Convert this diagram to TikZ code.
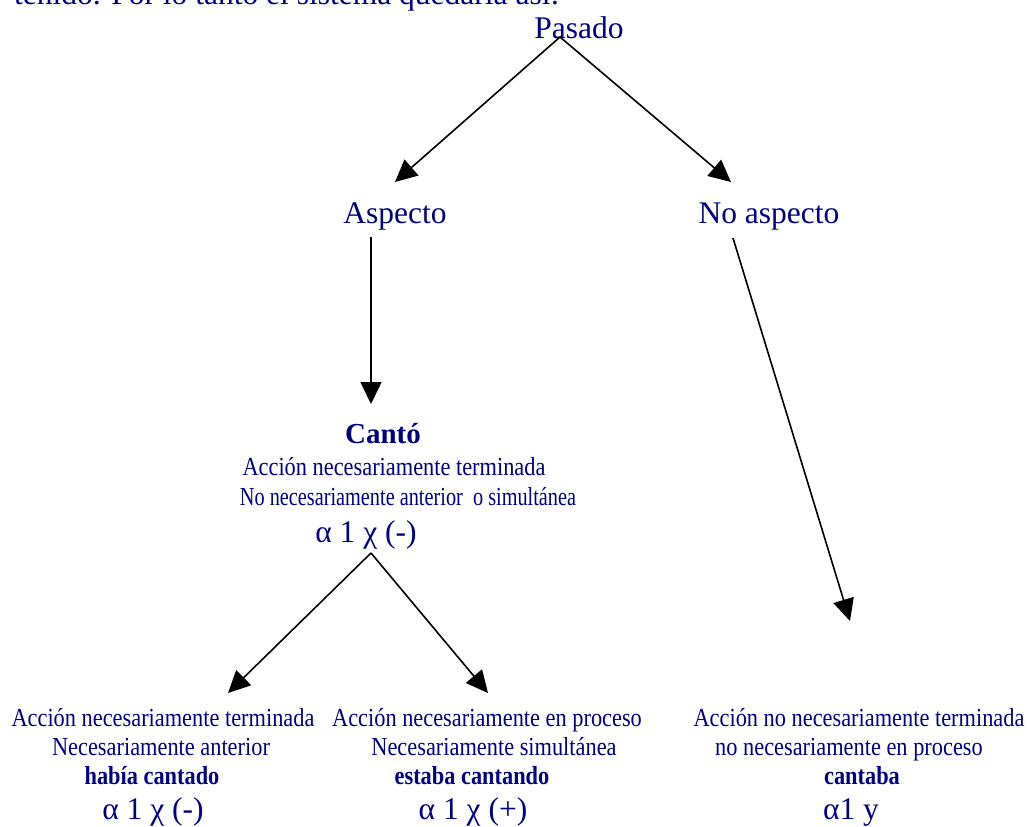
\documentclass[tikz,border=0pt]{standalone}
\usepackage{fontspec}
\setmainfont{Liberation Serif}
\newfontfamily\narrowserif[FakeStretch=0.86]{Liberation Serif}
\newfontfamily\narrowerserif[FakeStretch=0.78]{Liberation Serif}
\usetikzlibrary{arrows.meta}

\definecolor{ink}{RGB}{0,0,128}

\begin{document}
\begin{tikzpicture}[x=1pt,y=-1pt,
  txt/.style={inner sep=0pt,anchor=base,text=ink},
  big/.style={txt,font=\fontsize{31.5}{36}\selectfont},
  small/.style={txt,font=\narrowserif\fontsize{26}{30}\selectfont},
  smaller/.style={txt,font=\narrowerserif\fontsize{26}{30}\selectfont},
  smallbold/.style={txt,font=\narrowserif\bfseries\fontsize{26}{30}\selectfont},
  title/.style={txt,font=\bfseries\fontsize{29}{34}\selectfont},
  link/.style={draw=black,line width=1.6pt,
    -{Triangle[length=22pt,width=21pt]}}]
\useasboundingbox (0,0) rectangle (1028,827);
\begin{scope}
\clip (0,0) rectangle (1028,827);
\node[big,anchor=base west] (intro) at (14,5) {tenido. Por lo tanto el sistema quedaría así:};
\end{scope}

% upper levels
\node[big] (pasado) at (579,38) {Pasado};
\node[big] (asp) at (395,223) {Aspecto};
\node[big] (noasp) at (769,223) {No aspecto};

% perfective branch
\node[title] (canto) at (383,443) {Cantó};
\node[small] (c1) at (394,475) {Acción necesariamente terminada};
\node[smaller] (c2) at (408,505) {No necesariamente anterior\ \ o simultánea};
\node[big] (cf) at (366,542) {α 1 χ (-)};

% leaves
\node[small] (l1) at (163,726) {Acción necesariamente terminada};
\node[small] (l2) at (161,755) {Necesariamente anterior};
\node[smallbold] (l3) at (152,784) {había cantado};
\node[big] (l4) at (153,819) {α 1 χ (-)};

\node[small] (m1) at (487,726) {Acción necesariamente en proceso};
\node[small] (m2) at (494,755) {Necesariamente simultánea};
\node[smallbold] (m3) at (472,784) {estaba cantando};
\node[big] (m4) at (473,819) {α 1 χ (+)};

\node[small] (r1) at (859,726) {Acción no necesariamente terminada};
\node[small] (r2) at (849,755) {no necesariamente en proceso};
\node[smallbold] (r3) at (862,784) {cantaba};
\node[big] (r4) at (851,819) {α1 y};

% connector ends
\coordinate (pasFoot) at (560,37);
\coordinate (aspTip) at (395,182);
\coordinate (noaspTip) at (731,182);
\coordinate (aspFoot) at (371,237);
\coordinate (cantoTip) at (371,404);
\coordinate (noaspFoot) at (733,238);
\coordinate (rTip) at (850,621);
\coordinate (cfFoot) at (371,553);
\coordinate (lTip) at (228,693);
\coordinate (mTip) at (488,693);

\draw[link] (pasFoot) -- (aspTip);
\draw[link] (pasFoot) -- (noaspTip);
\draw[link] (aspFoot) -- (cantoTip);
\draw[link] (noaspFoot) -- (rTip);
\draw[link] (cfFoot) -- (lTip);
\draw[link] (cfFoot) -- (mTip);
\end{tikzpicture}
\end{document}
